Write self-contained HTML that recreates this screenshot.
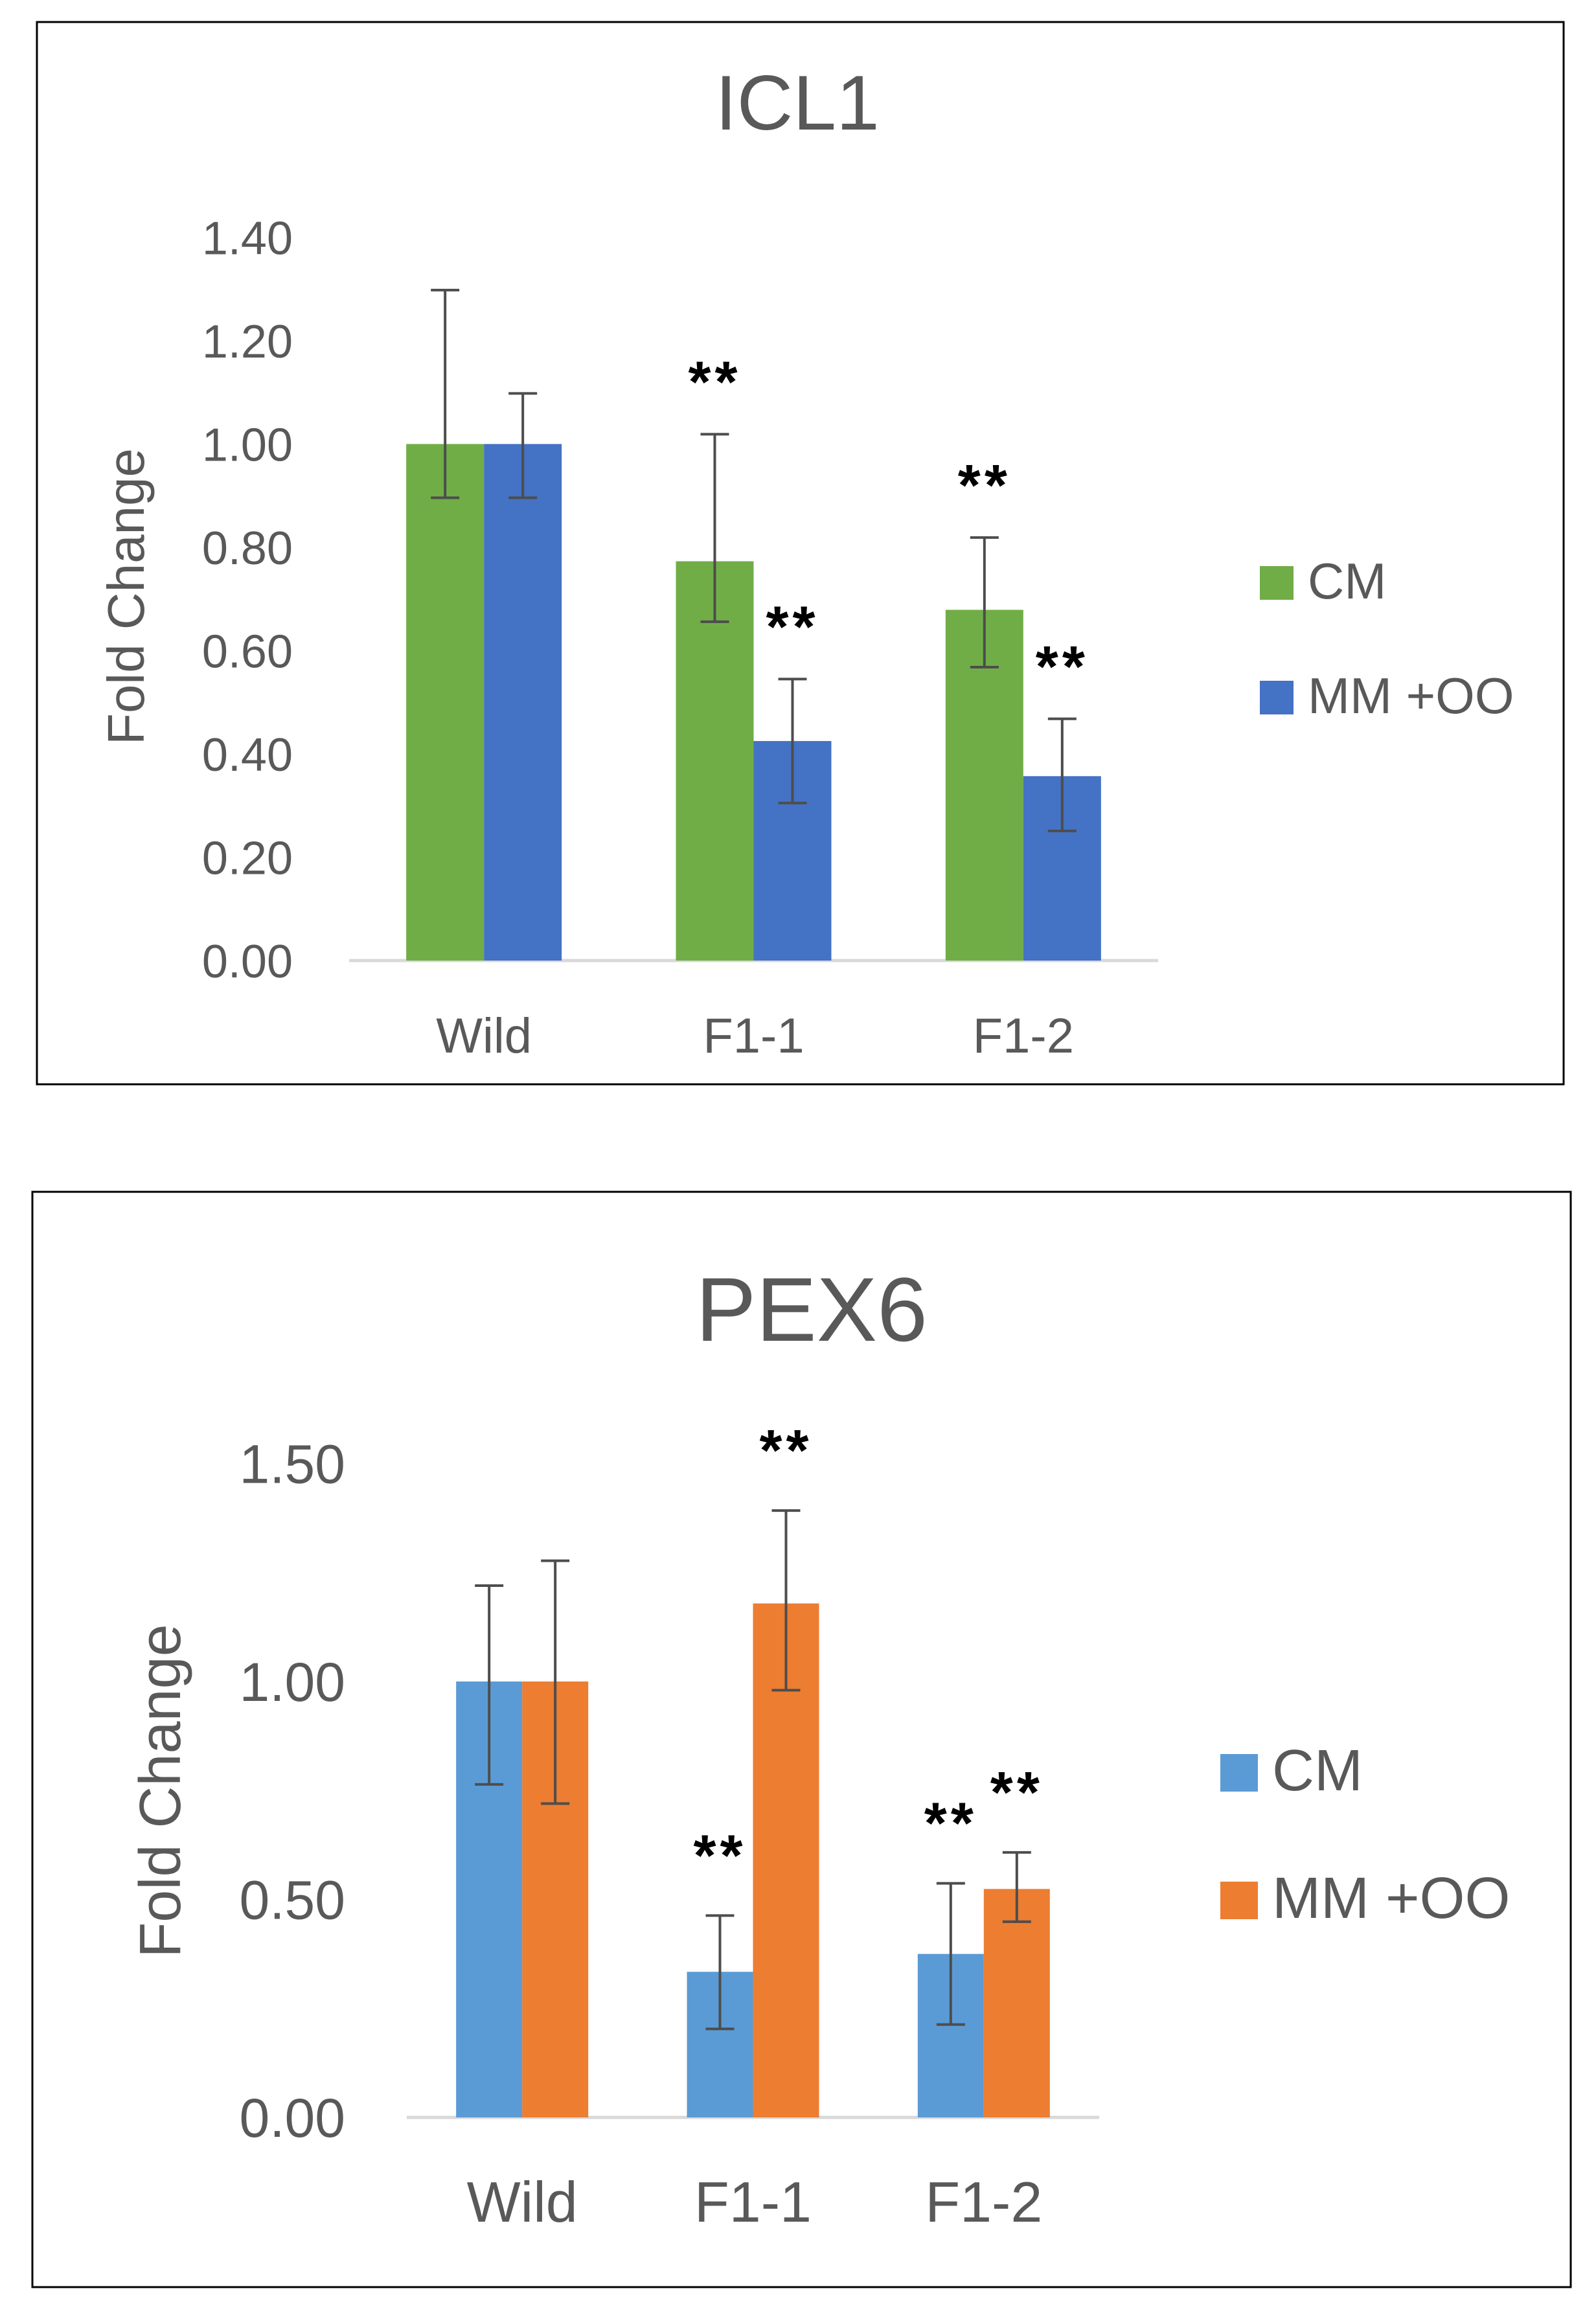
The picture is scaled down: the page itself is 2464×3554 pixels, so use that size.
<!DOCTYPE html>
<html><head><meta charset="utf-8">
<style>
html,body{margin:0;padding:0;background:#fff;}
svg{display:block;}
text{font-family:"Liberation Sans",sans-serif;}
</style></head>
<body>
<svg id="root" width="2464" height="3554" viewBox="0 0 2464 3554" xmlns="http://www.w3.org/2000/svg"></svg>
<script>
// ---- Chart 1: ICL1 ----
const icl1Categories = ["Wild", "F1-1", "F1-2"];
const icl1CM = [1.00, 0.773, 0.679];
const icl1CMLow = [0.896, 0.656, 0.568];
const icl1CMHigh = [1.298, 1.019, 0.819];
const icl1MM = [1.00, 0.425, 0.357];
const icl1MMLow = [0.896, 0.305, 0.251];
const icl1MMHigh = [1.098, 0.545, 0.468];
const icl1CMSig = [false, true, true];
const icl1MMSig = [false, true, true];
const icl1Ticks = ["0.00","0.20","0.40","0.60","0.80","1.00","1.20","1.40"];
const icl1TickValues = [0,0.2,0.4,0.6,0.8,1.0,1.2,1.4];

// ---- Chart 2: PEX6 ----
const pex6Categories = ["Wild", "F1-1", "F1-2"];
const pex6CM = [1.00, 0.334, 0.375];
const pex6CMLow = [0.764, 0.203, 0.213];
const pex6CMHigh = [1.22, 0.463, 0.537];
const pex6MM = [1.00, 1.179, 0.524];
const pex6MMLow = [0.72, 0.98, 0.449];
const pex6MMHigh = [1.277, 1.392, 0.608];
const pex6CMSig = [false, true, true];
const pex6MMSig = [false, true, true];
const pex6Ticks = ["0.00","0.50","1.00","1.50"];
const pex6TickValues = [0,0.5,1.0,1.5];

const NS = "http://www.w3.org/2000/svg";
const root = document.getElementById('root');
function mk(tag, attrs, parent){
  const e = document.createElementNS(NS, tag);
  for (const k in attrs) e.setAttribute(k, attrs[k]);
  (parent||root).appendChild(e);
  return e;
}

function drawChart(cfg){
  const g = mk('g', {});
  
  
  const frame = mk('rect', {x:cfg.frame[0], y:cfg.frame[1], width:cfg.frame[2], height:cfg.frame[3], fill:'#fff', stroke:'#000', 'stroke-width':3}, g);
  
  
  const title = mk('text', {x:cfg.titleX, y:cfg.titleY, 'font-size':cfg.titleSize, fill:'#595959', 'text-anchor':'middle'}, g);
  title.textContent = cfg.title;
  
  

  const yScale = v => cfg.y0 - v * cfg.pxPerUnit;
  const band = (cfg.axisX1 - cfg.axisX0) / cfg.categories.length;
  const xCenter = i => cfg.axisX0 + band * (i + 0.5);

  cfg.tickValues.forEach((v, i) => {
    const t = mk('text', {x:cfg.tickX, y:yScale(v) + cfg.tickSize*0.36, 'font-size':cfg.tickSize, fill:'#595959', 'text-anchor':'end'}, g);
    t.textContent = cfg.ticks[i];
    
    
  });
  const ax = mk('line', {x1:cfg.axisX0, x2:cfg.axisX1, y1:cfg.y0, y2:cfg.y0, stroke:'#d9d9d9', 'stroke-width':5}, g);
  
  

  const yt = mk('text', {x:0, y:0, 'font-size':cfg.yTitleSize, fill:'#595959', 'text-anchor':'middle', transform:`translate(${cfg.yTitleX},${cfg.yTitleY}) rotate(-90)`}, g);
  yt.textContent = 'Fold Change';
  
  

  const series = [
    {vals:cfg.cm, lo:cfg.cmLo, hi:cfg.cmHi, sig:cfg.cmSig, color:cfg.c1, off:-1, nm:'cm'},
    {vals:cfg.mm, lo:cfg.mmLo, hi:cfg.mmHi, sig:cfg.mmSig, color:cfg.c2, off:0, nm:'mm'}
  ];
  series.forEach(s => {
    s.vals.forEach((v, i) => {
      const x = xCenter(i) + s.off * cfg.barW;
      const b = mk('rect', {x:x, y:yScale(v), width:cfg.barW, height:cfg.y0 - yScale(v), fill:s.color}, g);
      
      
      const cx = x + cfg.barW/2;
      const eg = mk('g', {stroke:'#4d4d4d', 'stroke-width':4}, g);
      
      
      mk('line', {x1:cx, x2:cx, y1:yScale(s.hi[i]), y2:yScale(s.lo[i])}, eg);
      mk('line', {x1:cx-22, x2:cx+22, y1:yScale(s.hi[i]), y2:yScale(s.hi[i])}, eg);
      mk('line', {x1:cx-22, x2:cx+22, y1:yScale(s.lo[i]), y2:yScale(s.lo[i])}, eg);
      if (s.sig[i]) {
        const st = mk('text', {x:cx, y:yScale(s.hi[i]) - cfg.starGap + 38, 'font-size':90, 'font-weight':'bold', fill:'#000', 'text-anchor':'middle', 'letter-spacing':6}, g);
        st.textContent = '**';
        
        
      }
    });
  });
  cfg.categories.forEach((c, i) => {
    const t = mk('text', {x:xCenter(i), y:cfg.catY, 'font-size':cfg.catSize, fill:'#595959', 'text-anchor':'middle'}, g);
    t.textContent = c;
    
    
  });
  [[cfg.c1,'CM',cfg.leg1Y],[cfg.c2,'MM +OO',cfg.leg2Y]].forEach(([col, lab, y]) => {
    const lg = mk('g', {}, g);
    
    
    mk('rect', {x:cfg.legX, y:y, width:cfg.legSq, height:cfg.legSq, fill:col}, lg);
    const t = mk('text', {x:cfg.legX + cfg.legSq + 22, y:y + cfg.legSq - 2, 'font-size':cfg.legSize, fill:'#595959'}, lg);
    t.textContent = lab;
  });
}

drawChart({
  name:'icl1-chart', frame:[57,34,2357,1640], title:'ICL1', titleX:1231, titleY:200, titleSize:120,
  categories:icl1Categories, cm:icl1CM, cmLo:icl1CMLow, cmHi:icl1CMHigh, mm:icl1MM, mmLo:icl1MMLow, mmHi:icl1MMHigh,
  cmSig:icl1CMSig, mmSig:icl1MMSig, ticks:icl1Ticks, tickValues:icl1TickValues,
  y0:1483, pxPerUnit:797.5, tickX:452, tickSize:72, axisX0:539, axisX1:1788, barW:120,
  yTitleX:222, yTitleY:921, yTitleSize:80, catY:1625, catSize:76, starGap:88,
  c1:'#70AD47', c2:'#4472C4', legX:1945, leg1Y:874, leg2Y:1051, legSq:52, legSize:78
});
drawChart({
  name:'pex6-chart', frame:[50,1840,2375,1691], title:'PEX6', titleX:1253, titleY:2070, titleSize:140,
  categories:pex6Categories, cm:pex6CM, cmLo:pex6CMLow, cmHi:pex6CMHigh, mm:pex6MM, mmLo:pex6MMLow, mmHi:pex6MMHigh,
  cmSig:pex6CMSig, mmSig:pex6MMSig, ticks:pex6Ticks, tickValues:pex6TickValues,
  y0:3269, pxPerUnit:673, tickX:533, tickSize:84, axisX0:628, axisX1:1697, barW:102,
  yTitleX:278, yTitleY:2765, yTitleSize:90, catY:3430, catSize:88, starGap:100,
  c1:'#5B9BD5', c2:'#ED7D31', legX:1884, leg1Y:2708, leg2Y:2905, legSq:58, legSize:90
});
</script>
</body></html>
